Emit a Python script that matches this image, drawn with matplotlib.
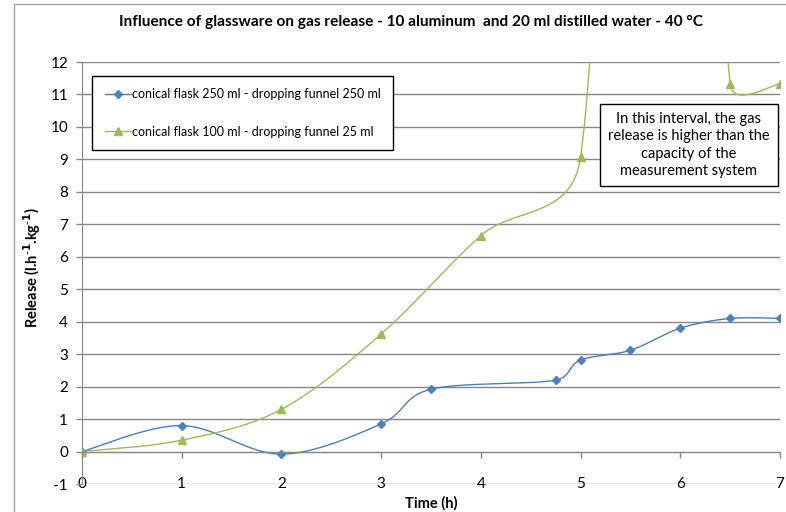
import numpy as np
import matplotlib
matplotlib.use("Agg")
import matplotlib.pyplot as plt
from matplotlib.patches import Rectangle

plt.rcParams['font.family'] = ['Lato', 'DejaVu Sans']
plt.rcParams['axes.unicode_minus'] = False

# data
t_blue = [0, 1, 2, 3, 3.5, 4.75, 5, 5.5, 6, 6.5, 7]
rel_blue = [0, 0.8, -0.08, 0.85, 1.92, 2.2, 2.82, 3.12, 3.8, 4.1, 4.1]
# 5.5 and 6 h are above the range of the measurement system (off scale)
t_green = [0, 1, 2, 3, 4, 5, 5.5, 6, 6.5, 7]
rel_green = [0, 0.35, 1.3, 3.62, 6.65, 9.07, 40, 40, 11.32, 11.32]

label_blue = "conical flask 250 ml - dropping funnel 250 ml"
label_green = "conical flask 100 ml - dropping funnel 25 ml"
title = "Influence of glassware on gas release - 10 aluminum  and 20 ml distilled water - 40 °C"
note = "In this interval, the gas\nrelease is higher than the\ncapacity of the\nmeasurement system"

BLUE = "#4A7EBB"
GREEN = "#9BBB59"
GRID = "#878787"


def excel_smooth(ax, xs, ys, n=40):
    # bezier smoothing the way Excel does it, computed in screen space
    pts = ax.transData.transform(np.column_stack([xs, ys]))
    t = np.linspace(0, 1, n)[:, None]
    out = []
    for i in range(len(pts) - 1):
        p0 = pts[i - 1] if i > 0 else pts[i]
        p1 = pts[i]
        p2 = pts[i + 1]
        p3 = pts[i + 2] if i + 2 < len(pts) else pts[i + 1]
        d02 = np.linalg.norm(p2 - p0)
        d12 = np.linalg.norm(p2 - p1)
        d13 = np.linalg.norm(p3 - p1)
        f1 = f2 = 1 / 6
        if d02 > 0 and d02 / 6 > d12 / 2:
            f1 = d12 / (2 * d02)
        if d13 > 0 and d13 / 6 > d12 / 2:
            f2 = d12 / (2 * d13)
        c1 = p1 + f1 * (p2 - p0)
        c2 = p2 - f2 * (p3 - p1)
        seg = ((1 - t) ** 3) * p1 + 3 * ((1 - t) ** 2) * t * c1 + 3 * (1 - t) * t ** 2 * c2 + t ** 3 * p2
        out.append(seg)
    out = np.vstack(out)
    data = ax.transData.inverted().transform(out)
    return data[:, 0], data[:, 1]


fig = plt.figure(figsize=(7.86, 5.12), dpi=100)
ax = fig.add_axes([82 / 786, 1 - 484 / 512, 698 / 786, 422 / 512])
ax.set_xlim(0, 7)
ax.set_ylim(-1, 12)

# chart area border
fig.patches.append(Rectangle((14 / 786, -0.1), 1.0, 1.1 - 4 / 512, transform=fig.transFigure,
                             fill=False, edgecolor="#a6a6a6", linewidth=1))

ax.set_yticks(range(-1, 13))
ax.set_xticks(range(0, 8))
ax.grid(axis='y', color=GRID, linewidth=1)
ax.set_axisbelow(True)

for s in ['top', 'right']:
    ax.spines[s].set_visible(False)
ax.spines['left'].set_color(GRID)
ax.spines['bottom'].set_color(GRID)
ax.spines['bottom'].set_position(('data', 0))
ax.tick_params(axis='y', colors=GRID, labelcolor='black', labelsize=11, length=4, width=1, pad=6)
ax.tick_params(axis='x', colors=GRID, labelcolor='black', labelsize=11, length=4, width=1, pad=14)

xb, yb = excel_smooth(ax, t_blue, rel_blue)
xg, yg = excel_smooth(ax, t_green, rel_green)
ax.plot(xb, yb, color=BLUE, linewidth=1)
ax.plot(xg, yg, color=GREEN, linewidth=1)
ax.plot(t_blue, rel_blue, linestyle='none', marker='D', markersize=4.5, color="#4F81BD")
ax.plot(t_green, rel_green, linestyle='none', marker='^', markersize=5.5, color=GREEN)

# legend handles
hb, = ax.plot([], [], color=BLUE, linewidth=1, marker='D', markersize=4.5, markerfacecolor="#4F81BD",
              markeredgecolor="#4F81BD")
hg, = ax.plot([], [], color=GREEN, linewidth=1, marker='^', markersize=5.5)
leg = ax.legend([hb, hg], [label_blue, label_green], loc='upper left',
                bbox_to_anchor=(10 / 698, 1 - 14 / 422), borderaxespad=0, fancybox=False,
                edgecolor='black', framealpha=1, fontsize=9.0, labelspacing=2.0,
                handlelength=2.1, handletextpad=0.1, borderpad=1.0)
leg.get_frame().set_linewidth(1)

ax.text((689 - 82) / 698, (484 - 145) / 422, note, transform=ax.transAxes, ha='center', va='center',
        fontsize=10.5, linespacing=1.3,
        bbox=dict(boxstyle='square,pad=0.55', facecolor='white', edgecolor='black', linewidth=1))

fig.text(411 / 786, 1 - 22 / 512, title, ha='center', va='center', fontsize=11.1, fontweight='bold')
fig.text(431 / 786, 1 - 503 / 512, "Time (h)", ha='center', va='center', fontsize=10.5, fontweight='bold')
fig.text(32 / 786, 1 - 268 / 512, r"Release (l.h$^{\mathbf{\text{-}1}}$.kg$^{\mathbf{\text{-}1}}$)",
         ha='center', va='center', rotation=90, fontsize=10.5, fontweight='bold')

fig.savefig("out.png", dpi=100)
